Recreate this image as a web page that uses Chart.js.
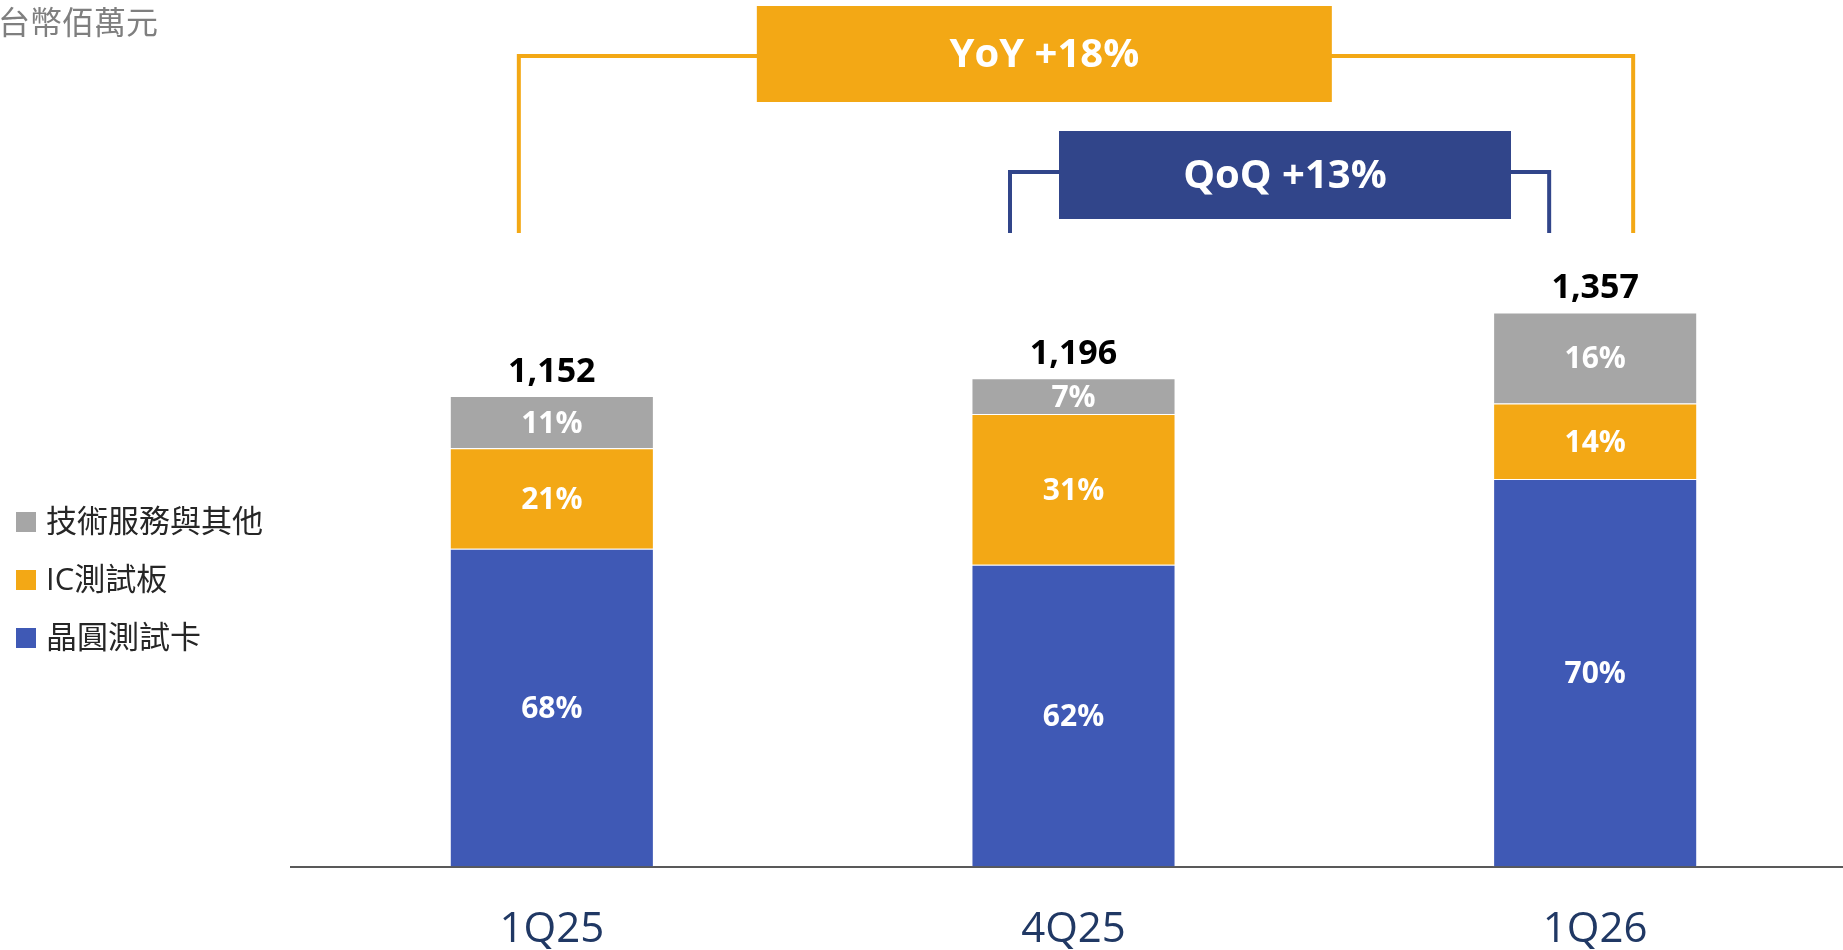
<!DOCTYPE html>
<html>
<head>
<meta charset="utf-8">
<script src="https://cdn.jsdelivr.net/npm/chart.js@4.4.1/dist/chart.umd.min.js"></script>
<style>
html,body{margin:0;padding:0;background:#fff;overflow:hidden;}
#wrap{width:1843px;height:950px;position:relative;overflow:hidden;}
canvas{display:block;}
</style>
</head>
<body>
<div id="wrap"><canvas id="c" width="1856" height="950"></canvas></div>
<script>
// ---- data (台幣佰萬元) ----
const categories = ['1Q25', '4Q25', '1Q26'];
const seriesNames = ['晶圓測試卡', 'IC測試板', '技術服務與其他'];
const probeCards = [778, 739, 949];   // 晶圓測試卡
const icBoards   = [246, 369, 185];   // IC測試板
const services   = [128, 88, 223];    // 技術服務與其他
const unitLabel = '台幣佰萬元';
const yoyLabel = 'YoY +18%';
const qoqLabel = 'QoQ +13%';

const FONT = "'Open Sans', 'Noto Sans CJK TC', sans-serif";
const COLORS = ['#3F59B5', '#F3A815', '#A6A6A6'];
const NAVY = '#31458A';

const seriesData = [probeCards, icBoards, services];
const totals = categories.map((_, i) => seriesData.reduce((s, a) => s + a[i], 0));

const overlay = {
  id: 'overlay',
  afterDatasetsDraw(chart) {
    const ctx = chart.ctx;
    const xs = chart.scales.x, ys = chart.scales.y;
    const area = chart.chartArea;
    ctx.save();

    // unit label
    ctx.fillStyle = '#7F7F7F';
    ctx.font = `32px ${FONT}`;
    ctx.textAlign = 'left';
    ctx.textBaseline = 'middle';
    ctx.fillText(unitLabel, -2, 25);

    // legend (reverse order: top = last dataset)
    const legendY = [522, 580, 638];
    const order = [2, 1, 0];
    order.forEach((di, k) => {
      const ds = chart.data.datasets[di];
      ctx.fillStyle = ds.backgroundColor;
      ctx.fillRect(16, legendY[k] - 10, 20, 20);
      ctx.fillStyle = '#262626';
      ctx.font = `31px ${FONT}`;
      ctx.textAlign = 'left';
      ctx.textBaseline = 'middle';
      ctx.fillText(ds.label, 46, legendY[k] + 1);
    });

    // segment percentage labels
    chart.data.datasets.forEach((ds, di) => {
      const meta = chart.getDatasetMeta(di);
      meta.data.forEach((bar, i) => {
        const pct = Math.round(ds.data[i] / totals[i] * 100) + '%';
        const cy = (bar.y + bar.base) / 2;
        ctx.fillStyle = '#FFFFFF';
        ctx.font = `bold 30px ${FONT}`;
        ctx.textAlign = 'center';
        ctx.textBaseline = 'middle';
        ctx.fillText(pct, bar.x, cy + 2);
      });
    });

    // totals
    categories.forEach((c, i) => {
      const x = xs.getPixelForValue(i);
      const y = ys.getPixelForValue(totals[i]);
      ctx.fillStyle = '#000000';
      ctx.font = `bold 34px ${FONT}`;
      ctx.textAlign = 'center';
      ctx.textBaseline = 'middle';
      ctx.fillText(totals[i].toLocaleString('en-US'), x, y - 24);
    });

    // brackets
    const p0 = xs.getPixelForValue(0), p1 = xs.getPixelForValue(1), p2 = xs.getPixelForValue(2);
    const bottomY = area.top - 21;
    function bracket(x1, x2, yh, color) {
      ctx.strokeStyle = color;
      ctx.lineWidth = 4;
      ctx.lineJoin = 'miter';
      ctx.beginPath();
      ctx.moveTo(x1, bottomY);
      ctx.lineTo(x1, yh);
      ctx.lineTo(x2, yh);
      ctx.lineTo(x2, bottomY);
      ctx.stroke();
    }
    function box(x1, x2, y1, y2, color, text) {
      ctx.fillStyle = color;
      ctx.fillRect(x1, y1, x2 - x1, y2 - y1);
      ctx.fillStyle = '#FFFFFF';
      ctx.font = `bold 40px ${FONT}`;
      ctx.textAlign = 'center';
      ctx.textBaseline = 'middle';
      ctx.fillText(text, (x1 + x2) / 2, (y1 + y2) / 2 + 2);
    }
    // YoY
    bracket(p0 - 33, p2 + 38, 56, COLORS[1]);
    box(p0 + 205, p0 + 780, 6, 102, COLORS[1], yoyLabel);
    // QoQ
    bracket(p1 - 63.5, p2 - 46, 172, NAVY);
    box(p1 - 14.5, p1 + 437.5, 131, 219, NAVY, qoqLabel);

    ctx.restore();
  }
};

new Chart(document.getElementById('c'), {
  type: 'bar',
  data: {
    labels: categories,
    datasets: seriesNames.map((name, k) => ({
      label: name,
      data: seriesData[k],
      backgroundColor: COLORS[k],
      borderColor: 'rgba(255,255,255,0.45)',
      borderWidth: 1,
      borderSkipped: 'bottom',
      categoryPercentage: 1,
      barPercentage: 0.3912
    }))
  },
  options: {
    responsive: false,
    animation: false,
    layout: { padding: { left: 291, right: 0, top: 254, bottom: 0 } },
    plugins: { legend: { display: false }, tooltip: { enabled: false } },
    scales: {
      x: {
        stacked: true,
        grid: { display: true, drawOnChartArea: false, drawTicks: false, color: 'rgba(0,0,0,0)' },
        border: { display: true, color: '#595959', width: 2 },
        ticks: { color: '#203864', font: { family: FONT, size: 42 }, padding: 38 },
        afterFit(s) { s.height = 83.5; }
      },
      y: {
        stacked: true,
        display: false,
        min: 0,
        max: 1500
      }
    }
  },
  plugins: [overlay]
});
</script>
</body>
</html>
